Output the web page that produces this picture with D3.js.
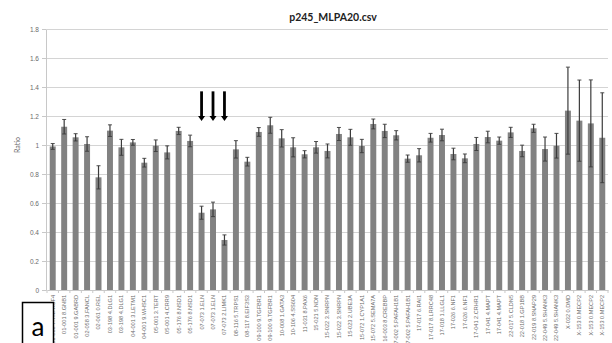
<!DOCTYPE html>
<html>
<head>
<meta charset="utf-8">
<script src="https://cdn.jsdelivr.net/npm/d3@7"></script>
<style>
  body { margin: 0; background: #fff; }
  svg { display: block; font-family: Lato, "Liberation Sans", sans-serif; }
</style>
</head>
<body>
<div id="chart"></div>
<script>
// probe names as printed under each bar
const probeLabels = [
  "01-000 7.TNFRSF4", "01-001 8.GNB1", "01-001 9.GABRD", "02-058 3.FANCL", "02-061 0.REL",
  "03-198 4.DLG1", "03-198 4.DLG1", "04-001 3.LETM1", "04-001 9.WHSC1", "05-001 3.TERT",
  "05-001 4.CRR9", "05-176 8.NSD1", "05-176 8.NSD1", "07-073 1.ELN", "07-073 1.ELN",
  "07-073 2.LIMK1", "08-116 5.TRPS1", "08-117 8.EIF3S3", "09-100 9.TGFBR1", "09-100 9.TGFBR1",
  "10-008 1.GATA3", "10-106 4.SS604", "11-031 8.PAX6", "15-021 5.NDN", "15-022 3.SNRPN",
  "15-022 3.SNRPN", "15-023 2.UBE3A", "15-072 1.CYP1A1", "15-072 5.SEMA7A", "16-003 8.CREBBP",
  "17-002 5.PAFAH1B1", "17-002 5.PAFAH1B1", "17-017 6.RAI1", "17-017 8.LRRC48", "17-018 1.LLGL1",
  "17-026 6.NF1", "17-026 6.NF1", "17-041 2.CRHR1", "17-041 4.MAPT", "17-041 4.MAPT",
  "22-017 5.CLDN5", "22-018 1.GP1BB", "22-019 8.SNAP29", "22-049 5.SHANK3", "22-049 5.SHANK3",
  "X-032 0.DMD", "X-153 0.MECP2", "X-153 0.MECP2", "X-153 0.MECP2"
];

// mean ratio per probe
const ratios = [
  0.99, 1.126, 1.053, 1.007, 0.777, 1.099, 0.984, 1.018, 0.878, 0.995,
  0.949, 1.097, 1.028, 0.533, 0.556, 0.345, 0.97, 0.885, 1.09, 1.136,
  1.046, 0.984, 0.936, 0.984, 0.959, 1.076, 1.053, 0.993, 1.145, 1.097,
  1.067, 0.906, 0.929, 1.05, 1.069, 0.938, 0.908, 1.007, 1.055, 1.03,
  1.087, 0.959, 1.115, 0.972, 0.995, 1.237, 1.168, 1.149, 1.05
];

// +/- error per probe
const errors = [
  0.02, 0.05, 0.025, 0.05, 0.08, 0.04, 0.055, 0.02, 0.03, 0.04,
  0.045, 0.025, 0.04, 0.045, 0.05, 0.035, 0.06, 0.03, 0.03, 0.055,
  0.06, 0.066, 0.025, 0.04, 0.048, 0.045, 0.055, 0.046, 0.034, 0.046,
  0.032, 0.025, 0.046, 0.03, 0.04, 0.04, 0.03, 0.045, 0.04, 0.025,
  0.035, 0.04, 0.028, 0.083, 0.085, 0.3, 0.28, 0.3, 0.31
];

const yTicks = [0, 0.2, 0.4, 0.6, 0.8, 1, 1.2, 1.4, 1.6, 1.8];
const arrowBars = [13, 14, 15]; // ELN, ELN, LIMK1
const arrowFrom = 1.37;
const arrowTo = 1.165;
const chartTitle = "p245_MLPA20.csv";
const panelLetter = "a";

const width = 612;
const height = 343;

const svg = d3.select("#chart")
  .append("svg")
  .attr("width", width)
  .attr("height", height);

const idx = d3.range(ratios.length);

const x = d3.scaleBand()
  .domain(idx)
  .range([47, 608])
  .paddingInner(0.48)
  .paddingOuter(0.24);

const y = d3.scaleLinear()
  .domain([0, 1.8])
  .range([290, 29]);

// gridlines
svg.append("g")
  .attr("transform", "translate(47,0)")
  .call(d3.axisLeft(y).tickValues(yTicks.slice(1)).tickSize(-561).tickFormat(""))
  .call(g => g.select(".domain").remove())
  .call(g => g.selectAll("line").attr("stroke", "#d4d4d4").attr("stroke-width", 1));

// y axis
svg.append("g")
  .attr("transform", "translate(46,0)")
  .call(d3.axisLeft(y).tickValues(yTicks).tickSize(4).tickPadding(3).tickFormat(d => String(+d.toFixed(1))))
  .call(g => g.select(".domain").attr("stroke", "#c8c8c8"))
  .call(g => g.selectAll(".tick line").attr("stroke", "#c8c8c8"))
  .call(g => g.selectAll("text").attr("fill", "#6a6a6a").style("font-size", "6.5px"));

svg.append("text")
  .attr("transform", "translate(20,145) rotate(-90)")
  .attr("text-anchor", "middle")
  .attr("fill", "#6a6a6a")
  .style("font-size", "7px")
  .text("Ratio");

// bars
svg.append("g")
  .selectAll("rect")
  .data(idx)
  .join("rect")
  .attr("x", i => x(i))
  .attr("y", i => y(ratios[i]))
  .attr("width", x.bandwidth())
  .attr("height", i => y(0) - y(ratios[i]))
  .attr("fill", "#828282");

// error bars
const eb = svg.append("g")
  .attr("stroke", "#3c3c3c")
  .attr("stroke-width", 1.2);

eb.selectAll("line.v")
  .data(idx)
  .join("line")
  .attr("class", "v")
  .attr("x1", i => x(i) + x.bandwidth() / 2)
  .attr("x2", i => x(i) + x.bandwidth() / 2)
  .attr("y1", i => y(ratios[i] - errors[i]))
  .attr("y2", i => y(ratios[i] + errors[i]));

["hi", "lo"].forEach(side => {
  eb.selectAll("line.cap-" + side)
    .data(idx)
    .join("line")
    .attr("class", "cap-" + side)
    .attr("stroke-width", 0.9)
    .attr("x1", i => x(i) + x.bandwidth() / 2 - 2)
    .attr("x2", i => x(i) + x.bandwidth() / 2 + 2)
    .attr("y1", i => y(side === "hi" ? ratios[i] + errors[i] : ratios[i] - errors[i]))
    .attr("y2", i => y(side === "hi" ? ratios[i] + errors[i] : ratios[i] - errors[i]));
});

// x axis
const xAxis = svg.append("g")
  .attr("transform", "translate(0,290)")
  .call(d3.axisBottom(x).tickSize(0).tickPadding(6).tickFormat(i => probeLabels[i]));

xAxis.select(".domain").attr("stroke", "#c8c8c8");
xAxis.selectAll("text")
  .attr("transform", "rotate(-90)")
  .attr("text-anchor", "end")
  .attr("x", -5)
  .attr("y", 0)
  .attr("dy", "0.35em")
  .attr("fill", "#6a6a6a")
  .style("font-size", "5.6px");

// small ticks between bars
xAxis.selectAll("line.sep")
  .data(d3.range(ratios.length + 1))
  .join("line")
  .attr("class", "sep")
  .attr("x1", i => 47 + i * x.step())
  .attr("x2", i => 47 + i * x.step())
  .attr("y1", 0)
  .attr("y2", 3)
  .attr("stroke", "#c8c8c8");

// arrows over the deleted probes
const arrows = svg.append("g").attr("fill", "#000").attr("stroke", "#000");
arrowBars.forEach(i => {
  const cx = x(i) + x.bandwidth() / 2;
  arrows.append("line")
    .attr("x1", cx).attr("x2", cx)
    .attr("y1", y(arrowFrom)).attr("y2", y(arrowTo) - 4)
    .attr("stroke-width", 2.8);
  arrows.append("path")
    .attr("stroke", "none")
    .attr("d", `M${cx - 3.5},${y(arrowTo) - 5} L${cx + 3.5},${y(arrowTo) - 5} L${cx},${y(arrowTo)} Z`);
});

// title
svg.append("text")
  .attr("x", 333)
  .attr("y", 21)
  .attr("text-anchor", "middle")
  .attr("fill", "#222")
  .style("font-size", "10.5px")
  .style("font-weight", "bold")
  .text(chartTitle);

// panel letter box
svg.append("rect")
  .attr("x", 22.5)
  .attr("y", 302.5)
  .attr("width", 31)
  .attr("height", 45)
  .attr("fill", "#fff")
  .attr("stroke", "#000")
  .attr("stroke-width", 1.5);

svg.append("text")
  .attr("x", 38)
  .attr("y", 336)
  .attr("text-anchor", "middle")
  .attr("fill", "#000")
  .style("font-size", "26px")
  .text(panelLetter);
</script>
</body>
</html>
